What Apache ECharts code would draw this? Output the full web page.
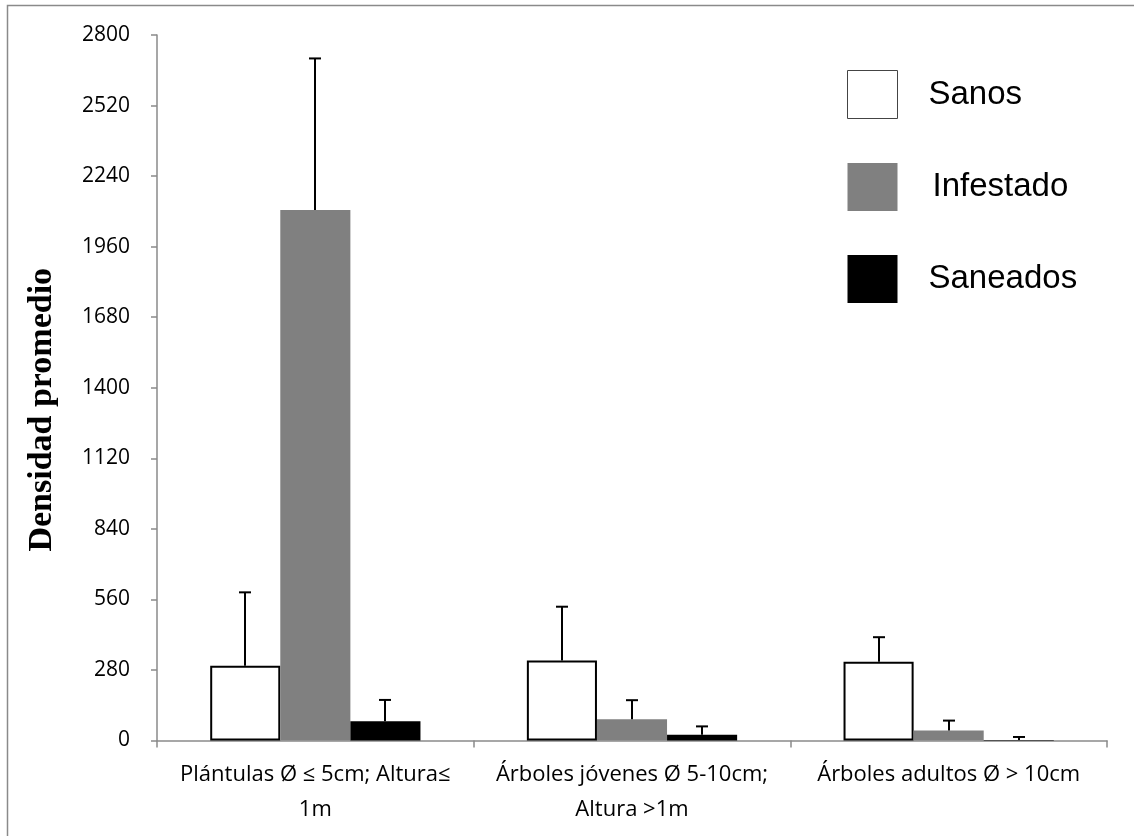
<!DOCTYPE html>
<html>
<head>
<meta charset="utf-8">
<script src="https://cdn.jsdelivr.net/npm/echarts@6/dist/echarts.min.js"></script>
<style>
  html, body { margin: 0; padding: 0; background: #fff; }
  #chart { width: 1134px; height: 836px; }
</style>
</head>
<body>
<div id="chart"></div>
<script>
// Categories (tree size classes) and series values
const categories = [
  'Plántulas Ø ≤ 5cm; Altura≤\n1m',
  'Árboles jóvenes Ø 5-10cm;\nAltura >1m',
  'Árboles adultos Ø > 10cm'
];
const seriesNames = ['Sanos', 'Infestado', 'Saneados'];
const sanos = [297, 318, 313];
const infestado = [2105, 84, 40];
const saneados = [76, 23, 2];
// Standard error (upper whisker) for each bar
const sanosErr = [291, 213, 97];
const infestadoErr = [602, 76, 39];
const saneadosErr = [85, 33, 12];
const yTicks = [0, 280, 560, 840, 1120, 1400, 1680, 1960, 2240, 2520, 2800];

const barColors = ['#ffffff', '#808080', '#000000'];
const categoryGap = 0.336;

const chart = echarts.init(document.getElementById('chart'));

function errorSeries(name, values, errs, slot) {
  return {
    type: 'custom',
    name: name + ' error',
    z: 5,
    data: values.map((v, i) => [i, v, errs[i]]),
    renderItem: function (params, api) {
      const i = api.value(0), v = api.value(1), e = api.value(2);
      const band = api.size([1, 0])[0];
      const barW = band * (1 - categoryGap) / 3;
      const off = (slot - 1) * barW;
      const p0 = api.coord([i, v]);
      const p1 = api.coord([i, v + e]);
      const x = Math.round(p0[0] + off);
      const cap = 6;
      return {
        type: 'group',
        children: [
          { type: 'line', shape: { x1: x, y1: p0[1], x2: x, y2: p1[1] },
            style: { stroke: '#000', lineWidth: 2 } },
          { type: 'line', shape: { x1: x - cap, y1: p1[1], x2: x + cap, y2: p1[1] },
            style: { stroke: '#000', lineWidth: 2 } }
        ]
      };
    }
  };
}

const option = {
  animation: false,
  backgroundColor: '#ffffff',
  graphic: [{
    type: 'rect',
    shape: { x: 7.5, y: 5.5, width: 1200, height: 900 },
    style: { fill: 'none', stroke: '#8a8a8a', lineWidth: 1.5 },
    silent: true
  }],
  grid: { left: 157, right: 27, top: 35, bottom: 95.5, containLabel: false },
  legend: {
    orient: 'vertical',
    left: 847,
    top: 70,
    padding: 0,
    itemWidth: 50,
    itemHeight: 48,
    itemGap: 44,
    icon: 'rect',
    textStyle: { fontFamily: 'Liberation Sans', fontSize: 33, color: '#000', padding: [0, 0, 0, 26] },
    data: [
      { name: 'Sanos', itemStyle: { color: '#fff', borderColor: '#444', borderWidth: 1 } },
      { name: 'Infestado', textStyle: { padding: [0, 0, 0, 30] } },
      { name: 'Saneados' }
    ]
  },
  xAxis: {
    type: 'category',
    data: categories,
    axisLine: { lineStyle: { color: '#8a8a8a', width: 1.5 } },
    axisTick: { show: true, length: 7, lineStyle: { color: '#8a8a8a', width: 1.5 } },
    axisLabel: {
      margin: 17,
      fontFamily: 'Open Sans',
      fontSize: 22,
      lineHeight: 35,
      color: '#000',
      interval: 0
    }
  },
  yAxis: {
    type: 'value',
    min: yTicks[0],
    max: yTicks[yTicks.length - 1],
    interval: yTicks[1] - yTicks[0],
    name: 'Densidad promedio',
    nameLocation: 'middle',
    nameGap: 98,
    nameRotate: 90,
    nameTextStyle: {
      fontFamily: 'Liberation Serif', fontWeight: 'bold', fontSize: 34, color: '#000',
      padding: [0, 44, 0, 0]
    },
    axisLine: { show: true, lineStyle: { color: '#8a8a8a', width: 1.5 } },
    axisTick: { show: true, length: 6, lineStyle: { color: '#8a8a8a', width: 1.5 } },
    splitLine: { show: false },
    axisLabel: {
      margin: 27, fontFamily: 'Open Sans', fontSize: 21, color: '#000',
      formatter: function (v) { return String(v); }
    }
  },
  series: [
    {
      name: seriesNames[0], type: 'bar', data: sanos,
      barGap: '0%', barCategoryGap: (categoryGap * 100) + '%',
      itemStyle: { color: barColors[0], borderColor: '#000', borderWidth: 2 }
    },
    {
      name: seriesNames[1], type: 'bar', data: infestado,
      itemStyle: { color: barColors[1] }
    },
    {
      name: seriesNames[2], type: 'bar', data: saneados,
      itemStyle: { color: barColors[2] }
    },
    errorSeries(seriesNames[0], sanos, sanosErr, 0),
    errorSeries(seriesNames[1], infestado, infestadoErr, 1),
    errorSeries(seriesNames[2], saneados, saneadosErr, 2)
  ]
};

chart.setOption(option);
</script>
</body>
</html>
